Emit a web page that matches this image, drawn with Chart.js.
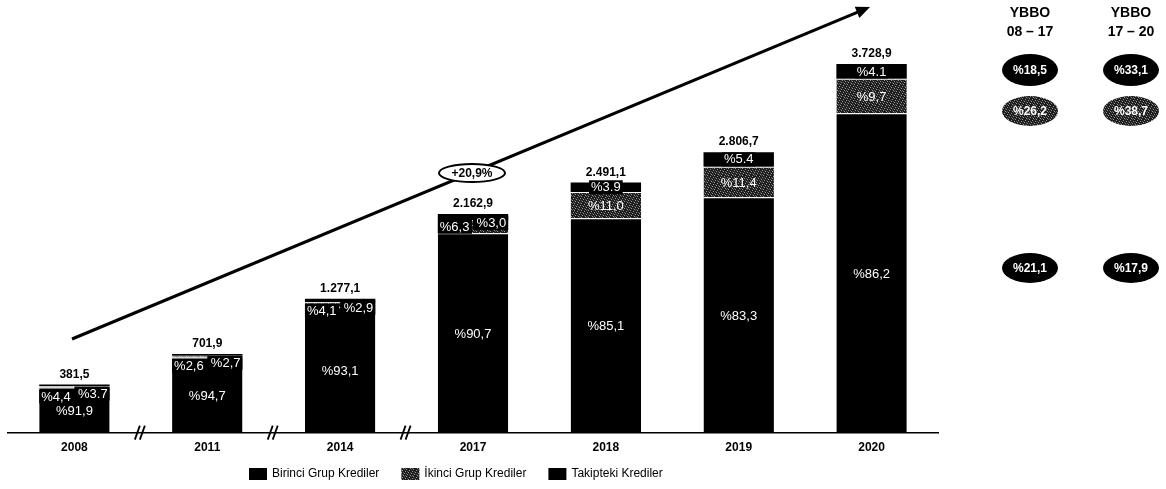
<!DOCTYPE html>
<html>
<head>
<meta charset="utf-8">
<script src="https://cdn.jsdelivr.net/npm/chart.js@4.4.1/dist/chart.umd.min.js"></script>
<style>
    body { margin: 0; background: #fff; }
    #wrap { width: 1166px; height: 489px; }
</style>
</head>
<body>
<div id="wrap"><canvas id="kredilerChart" width="1166" height="489"></canvas></div>
<script>
// chart data
const years = ['2008', '2011', '2014', '2017', '2018', '2019', '2020'];
const totals = [381.5, 701.9, 1277.1, 2162.9, 2491.1, 2806.7, 3728.9];
const totalLabels = ['381,5', '701,9', '1.277,1', '2.162,9', '2.491,1', '2.806,7', '3.728,9'];
const birinciPct = [91.9, 94.7, 93.1, 90.7, 85.1, 83.3, 86.2];
const ikinciPct = [4.4, 2.6, 4.1, 6.3, 11.0, 11.4, 9.7];
const takipPct = [3.7, 2.7, 2.9, 3.0, 3.9, 5.4, 4.1];
const birinciLabels = ['%91,9', '%94,7', '%93,1', '%90,7', '%85,1', '%83,3', '%86,2'];
const ikinciLabels = ['%4,4', '%2,6', '%4,1', '%6,3', '%11,0', '%11,4', '%9,7'];
const takipLabels = ['%3.7', '%2,7', '%2,9', '%3,0', '%3.9', '%5.4', '%4.1'];
const seriesNames = ['Birinci Grup Krediler', 'İkinci Grup Krediler', 'Takipteki Krediler'];
const cagrHeads = [['YBBO', '08 – 17'], ['YBBO', '17 – 20']];
const cagrTakip = ['%18,5', '%33,1'];
const cagrIkinci = ['%26,2', '%38,7'];
const cagrBirinci = ['%21,1', '%17,9'];
const growthLabel = '+20,9%';

const FONT = "Arial, 'Liberation Sans', sans-serif";
const canvas = document.getElementById('kredilerChart');
const ctx = canvas.getContext('2d');

// dark speckled fill for the second group
function makeSpeckle() {
    const c = document.createElement('canvas');
    c.width = 7; c.height = 7;
    const g = c.getContext('2d');
    g.fillStyle = '#1c1c1c'; g.fillRect(0, 0, 7, 7);
    const light = [[0, 0], [3, 1], [6, 2], [2, 3], [5, 4], [1, 5], [4, 6]];
    const mid = [[5, 0], [1, 2], [4, 3], [0, 4], [3, 5], [6, 6]];
    g.fillStyle = '#9a9a9a';
    light.forEach(p => g.fillRect(p[0], p[1], 1, 1));
    g.fillStyle = '#555';
    mid.forEach(p => g.fillRect(p[0], p[1], 1, 1));
    return ctx.createPattern(c, 'repeat');
}
const speckle = makeSpeckle();

const segment = (pct) => totals.map((t, i) => t * pct[i] / 100);

function labelBox(c, text, x, y, align, boxL, boxR) {
    c.font = '13px ' + FONT;
    const w = c.measureText(text).width;
    let left = align === 'left' ? x : align === 'right' ? x - w : x - w / 2;
    const bl = boxL !== undefined ? boxL : left - 2;
    const br = boxR !== undefined ? boxR : left + w + 2;
    c.fillStyle = '#000';
    c.fillRect(bl, y - 7, br - bl, 14);
    c.fillStyle = '#fff';
    c.textAlign = 'left';
    c.textBaseline = 'middle';
    c.fillText(text, left, y + 0.5);
}

function ellipse(c, x, y, rx, ry, fill, text) {
    c.beginPath();
    c.ellipse(x, y, rx, ry, 0, 0, Math.PI * 2);
    c.fillStyle = fill;
    c.fill();
    c.fillStyle = '#fff';
    c.font = 'bold 12px ' + FONT;
    c.textAlign = 'center';
    c.textBaseline = 'middle';
    c.fillText(text, x, y + 1);
}

const decorations = {
    id: 'decorations',
    afterDatasetsDraw(chart) {
        const c = chart.ctx;
        const x = chart.scales.x;
        const m0 = chart.getDatasetMeta(0), m1 = chart.getDatasetMeta(1), m2 = chart.getDatasetMeta(2);
        c.save();

        years.forEach((y, i) => {
            const b = m0.data[i], k = m1.data[i], t = m2.data[i];
            const half = b.width / 2;
            // birinci
            c.font = '13px ' + FONT;
            c.fillStyle = '#fff';
            c.textAlign = 'center';
            c.textBaseline = 'middle';
            c.fillText(birinciLabels[i], b.x, (b.y + b.base) / 2 + 1);
            if (k.base - k.y < 16) {
                // thin segments: labels side by side at the top
                const leftY = Math.max((k.y + k.base) / 2, t.y + 12);
                labelBox(c, ikinciLabels[i], b.x - half + 2, leftY, 'left', b.x - half, b.x - 1);
                labelBox(c, takipLabels[i], b.x + half - 2, t.y + 9, 'right', b.x, b.x + half);
            } else {
                c.font = '13px ' + FONT;
                c.fillStyle = '#fff';
                c.textAlign = 'center';
                c.fillText(ikinciLabels[i], k.x, (k.y + k.base) / 2 + 1);
                labelBox(c, takipLabels[i], t.x, (t.y + t.base) / 2, 'center');
            }
            c.font = 'bold 12px ' + FONT;
            c.fillStyle = '#000';
            c.textAlign = 'center';
            c.textBaseline = 'middle';
            c.fillText(totalLabels[i], t.x, t.y - 10);
        });

        // axis breaks between the non-consecutive years
        c.strokeStyle = '#000';
        c.lineWidth = 1.8;
        const yb = chart.chartArea.bottom;
        for (let i = 0; i < 3; i++) {
            const mx = (x.getPixelForTick(i) + x.getPixelForTick(i + 1)) / 2;
            [-3, 2].forEach(d => {
                c.beginPath();
                c.moveTo(mx + d - 3, yb + 7);
                c.lineTo(mx + d + 2, yb - 7);
                c.stroke();
            });
        }

        // growth arrow
        const x0 = 72, y0 = 339, x1 = 870, y1 = 7;
        const ang = Math.atan2(y1 - y0, x1 - x0);
        c.lineWidth = 3;
        c.beginPath();
        c.moveTo(x0, y0);
        c.lineTo(x1 - 10 * Math.cos(ang), y1 - 10 * Math.sin(ang));
        c.stroke();
        c.beginPath();
        c.moveTo(x1, y1);
        c.lineTo(x1 - 14 * Math.cos(ang) + 6 * Math.sin(ang), y1 - 14 * Math.sin(ang) - 6 * Math.cos(ang));
        c.lineTo(x1 - 14 * Math.cos(ang) - 6 * Math.sin(ang), y1 - 14 * Math.sin(ang) + 6 * Math.cos(ang));
        c.closePath();
        c.fillStyle = '#000';
        c.fill();
        c.beginPath();
        c.ellipse(472, 173, 33, 9, 0, 0, Math.PI * 2);
        c.fillStyle = '#fff';
        c.fill();
        c.lineWidth = 2;
        c.stroke();
        c.fillStyle = '#000';
        c.font = 'bold 12px ' + FONT;
        c.textAlign = 'center';
        c.textBaseline = 'middle';
        c.fillText(growthLabel, 472, 174);

        // CAGR columns on the right
        const cols = [1030, 1131];
        cols.forEach((cx, j) => {
            c.fillStyle = '#000';
            c.font = 'bold 14px ' + FONT;
            c.textAlign = 'center';
            c.textBaseline = 'middle';
            c.fillText(cagrHeads[j][0], cx, 13);
            c.fillText(cagrHeads[j][1], cx, 32);
            ellipse(c, cx, 70, 28, 16, '#000', cagrTakip[j]);
            ellipse(c, cx, 111, 28, 15, speckle, cagrIkinci[j]);
            ellipse(c, cx, 268, 28, 15, '#000', cagrBirinci[j]);
        });

        // legend
        const fills = ['#000', speckle, '#000'];
        let lx = 249;
        c.font = '12px ' + FONT;
        c.textAlign = 'left';
        c.textBaseline = 'middle';
        seriesNames.forEach((n, j) => {
            c.fillStyle = fills[j];
            c.fillRect(lx, 468, 18, 12);
            c.fillStyle = '#000';
            c.fillText(n, lx + 23, 474);
            lx += 23 + c.measureText(n).width + 22;
        });
        c.restore();
    }
};

new Chart(ctx, {
    type: 'bar',
    data: {
        labels: years,
        datasets: [{
            label: seriesNames[0],
            data: segment(birinciPct),
            backgroundColor: '#000',
            borderColor: '#fff',
            borderWidth: { top: 1, left: 0, right: 0, bottom: 0 },
            base: -120
        }, {
            label: seriesNames[1],
            data: segment(ikinciPct),
            backgroundColor: speckle,
            borderColor: '#fff',
            borderWidth: { top: 1, left: 0, right: 0, bottom: 0 }
        }, {
            label: seriesNames[2],
            data: segment(takipPct),
            backgroundColor: '#000',
            borderWidth: 0
        }]
    },
    options: {
        responsive: false,
        animation: false,
        layout: { padding: { left: 8, right: 228, top: 19, bottom: 26 } },
        datasets: { bar: { categoryPercentage: 1, barPercentage: 0.53 } },
        scales: {
            x: {
                stacked: true,
                grid: { display: false, drawTicks: false },
                border: { display: true, color: '#000', width: 1.5 },
                ticks: { color: '#000', padding: 8, font: { family: FONT, size: 12, weight: 'bold' } }
            },
            y: {
                stacked: true,
                display: false,
                min: -120,
                max: 4200
            }
        },
        plugins: {
            legend: { display: false },
            tooltip: { enabled: false }
        }
    },
    plugins: [decorations]
});
</script>
</body>
</html>
